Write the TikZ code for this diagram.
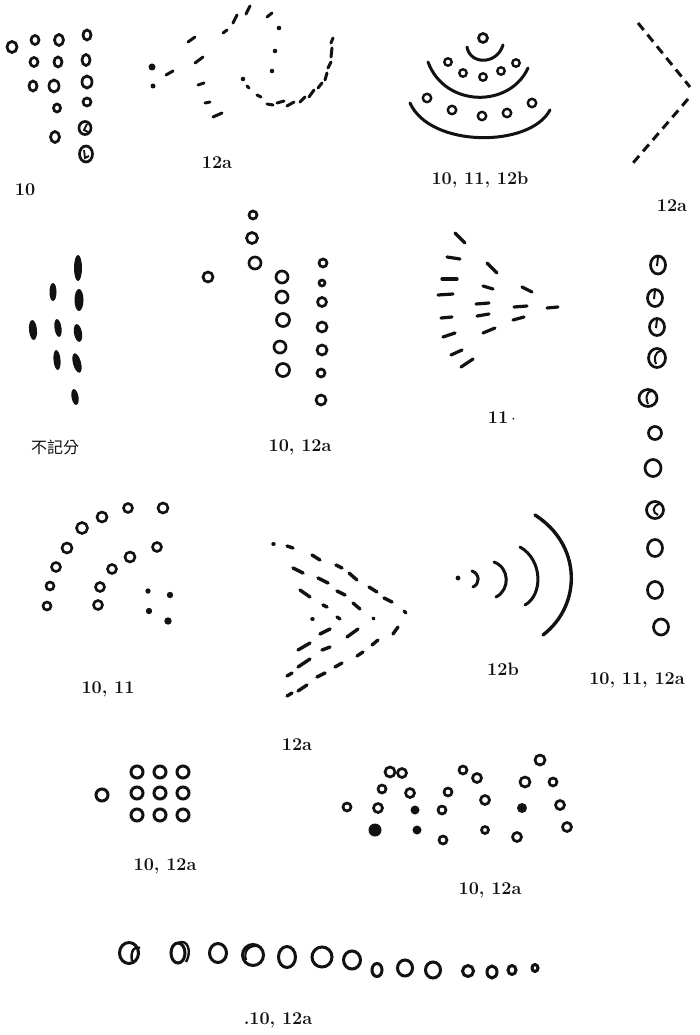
\documentclass[tikz,border=0pt]{standalone}
\usepackage{fontspec}
\newfontfamily\cjkfont{Noto Sans CJK TC}
\usepackage{tikz}
\usetikzlibrary{calc}
\definecolor{PrInk}{HTML}{121212}
\tikzset{
  ring/.style={draw=PrInk,line width=2.7pt},
  blot/.style={fill=PrInk},
  stub/.style={draw=PrInk,line width=3pt,line cap=round},
  bow/.style={draw=PrInk,line width=3pt,line cap=round},
  caption/.style={font=\bfseries\fontsize{18}{20}\selectfont,text=PrInk,inner sep=0pt},
}

\begin{document}
\begin{tikzpicture}[x=1pt,y=-1pt]
  \fill[white] (0,0) rectangle (699,1035);
  \useasboundingbox (0,0) rectangle (699,1035);

  % panel: ranks of circles, top left
  \foreach \x/\y/\a/\b in {12/47/5/5.5, 35/40/4/4.5, 59/40/4.5/5.5, 87/35/4/5,
      34/62/4/4.5, 58/62/4/5, 86/60/4/5.5, 33/86/4/5, 54/86/5/6, 87/82/5/6,
      57/108/3.5/4, 87/102/4/4, 55/137/4.5/5.5, 85/128/6/6.5, 86/154/6.5/8}
    \draw[ring] (\x,\y) ellipse [x radius=\a pt,y radius=\b pt];
  \draw[ring,line width=1.8pt] (87,124) -- (84,130) -- (88,132);
  \draw[ring,line width=1.8pt] (84,150) -- (85,158) -- (89,156);
  \node[caption] (capA) at (25,190) {10};

  % panel: dashes and dashed arc
  \fill[PrInk] (152,67) circle (3.5pt);
  \fill[PrInk] (153,86) circle (2.5pt);
  \foreach \xa/\ya/\xb/\yb in {166/75/173/71, 188/42/195/37, 195/63/203/57,
      198/85/204/83, 205/103/210/102, 213/117/222/113, 223/33/227/30,
      233/23/237/15, 246/14/250/6, 267/17/272/13, 247/86/249/88, 257/95/261/97,
      267/104/273/105, 277/103/284/101, 287/106/294/102, 300/102/305/97,
      309/97/314/90, 318/88/322/83, 325/80/327/73, 328/68/331/62,
      331/57/332/48, 331/43/333/38}
    \draw[stub] (\xa,\ya) -- (\xb,\yb);
  \foreach \x/\y in {279/28, 275/51, 272/71, 243/79}
    \fill[PrInk] (\x,\y) circle (2.3pt);
  \node[caption] (capB) at (217,163) {12a};

  % panel: bowls with circles
  \draw[ring] (483,38) circle (4.5pt);
  \draw[bow] (467,47) .. controls (470,65) and (497,65) .. (503,45);
  \draw[bow] (428,62) .. controls (445,108) and (510,108) .. (528,68);
  \draw[bow] (410,103) .. controls (430,148) and (530,148) .. (550,110);
  \foreach \x/\y in {448/62, 463/73, 483/77, 501/71, 516/63}
    \draw[ring,line width=2.4pt] (\x,\y) circle (3.7pt);
  \foreach \x/\y in {427/98, 452/110, 482/116, 507/113, 532/103}
    \draw[ring,line width=2.4pt] (\x,\y) circle (4.2pt);
  \node[caption] (capC) at (480,180) {10, 11, 12b};

  % panel: dashed angle
  \draw[bow,line cap=butt,dash pattern=on 9pt off 6pt] (638,23) -- (690,87);
  \draw[bow,line cap=butt,dash pattern=on 9pt off 6pt] (688,99) -- (633,163);
  \node[caption] (capD) at (672,206) {12a};

  % panel: long marks
  \foreach \x/\y/\a/\b/\r in {78/268/4/13/0, 53/292/3.5/9/0, 79/300/4.5/11/0,
      33/330/4/10/5, 58/328/3.5/9/8, 78/333/4/9/10, 57/360/3.5/10/5,
      77/363/4/10/15, 75/397/3.5/8/10}
    \fill[PrInk,rotate around={\r:(\x,\y)}] (\x,\y) ellipse [x radius=\a pt,y radius=\b pt];
  \node[font=\cjkfont\fontsize{16}{18}\selectfont,text=PrInk,inner sep=0pt] (capE) at (55,447) {不記分};

  % panel: columns of circles
  \foreach \x/\y/\r in {208/277/5, 253/215/4, 252/238/5.5, 255/263/6,
      282/277/6, 282/297/6, 283/320/6.5, 280/347/6, 283/370/6.5,
      323/263/4, 322/283/3, 322/302/4.5, 322/327/5, 322/350/5, 321/373/4, 321/400/5}
    \draw[ring] (\x,\y) circle (\r pt);
  \node[caption] (capF) at (300,447) {10, 12a};

  % panel: fan of strokes
  \foreach \xa/\ya/\xb/\yb in {455/233/465/243, 447/257/460/259, 442/279/457/279,
      438/295/453/294, 441/318/452/317, 443/337/455/333, 451/355/462/350,
      461/367/473/359, 487/263/497/273, 483/286/493/289, 476/304/489/303,
      477/316/489/314, 483/333/495/328, 522/287/532/292, 514/307/527/306,
      513/320/524/317, 547/308/558/307}
    \draw[stub,line width=3.2pt] (\xa,\ya) -- (\xb,\yb);
  \node[caption] (capG) at (502,418) {11\,$\cdot$};

  % panel: tall column of circles
  \foreach \x/\y/\a/\b in {658/265/7.5/9, 655/298/7.5/8.5, 657/327/7.5/8.5,
      657/358/8.5/9.5, 648/398/9/8.5, 655/433/6.5/6.5, 653/468/8/8.5,
      655/510/8.5/8.5, 655/548/7.5/8.5, 655/590/7.5/8.5, 661/627/7.5/8}
    \draw[ring] (\x,\y) ellipse [x radius=\a pt,y radius=\b pt];
  \foreach \x/\y in {658/265, 655/298, 657/327}
    \draw[ring,line width=2pt] (\x,\y-8) -- (\x-1,\y+1);
  \draw[ring,line width=2pt] (661,351) .. controls (654,352) and (654,360) .. (656,364);
  \draw[ring,line width=2pt] (652,391) .. controls (645,392) and (646,400) .. (648,404);
  \draw[ring,line width=2pt] (660,504) .. controls (652,505) and (652,513) .. (658,515);
  \node[caption] (capH) at (637,680) {10, 11, 12a};

  % panel: arcs of circles with dots
  \foreach \x/\y/\r in {47/606/4, 50/586/4, 56/567/4.5, 67/548/5, 82/528/5.5,
      102/517/5, 128/508/4.5, 163/508/5, 98/605/4.5, 100/587/4.5, 112/569/4.5,
      130/557/5, 157/547/4.5}
    \draw[ring,line width=2.6pt] (\x,\y) circle (\r pt);
  \foreach \x/\y/\r in {148/591/2.7, 170/595/3.2, 149/611/3.2, 168/621/3.7}
    \fill[PrInk] (\x,\y) circle (\r pt);
  \node[caption] (capI) at (108,689) {10, 11};

  % panel: three dashed chevrons
  \foreach \xa/\ya/\xb/\yb in {273/544/274/544, 287/546/293/548, 312/555/320/560,
      336/565/342/568, 349/573/357/580, 369/587/377/592, 384/598/392/602,
      404/611/406/613, 398/627/393/634, 378/640/372/645, 363/652/357/656,
      342/663/335/667, 325/673/317/677, 307/685/298/691, 292/693/287/696,
      293/568/303/573, 318/578/328/583, 337/591/345/595, 353/603/360/609,
      373/618/374/619, 358/629/347/637, 330/647/322/650, 310/659/298/667,
      292/673/287/676, 300/590/310/597, 323/605/327/607, 337/617/340/619,
      312/619/313/619, 330/629/320/634, 310/643/298/650}
    \draw[stub,line width=3.4pt] (\xa,\ya) -- (\xb,\yb);
  \node[caption] (capJ) at (297,745) {12a};

  % panel: widening arcs
  \fill[PrInk] (458,578) circle (2.4pt);
  \draw[bow] (472,571) .. controls (480,574) and (480,584) .. (473,587);
  \draw[bow] (494,562) .. controls (510,568) and (510,590) .. (496,597);
  \draw[bow] (520,547) .. controls (543,560) and (543,595) .. (525,605);
  \draw[bow,line width=3.4pt] (535,515) .. controls (582,545) and (582,605) .. (543,635);
  \node[caption] (capK) at (503,669) {12b};

  % panel: block of circles
  \foreach \x/\y in {137/772, 160/772, 183/772, 137/793, 160/793, 183/793,
      137/815, 160/815, 183/815, 102/795}
    \draw[ring,line width=3pt] (\x,\y) circle (6pt);
  \node[caption] (capL) at (165,866) {10, 12a};

  % panel: three humps of circles
  \draw[ring] (347,807) circle (4pt);
  \foreach \x/\y/\r in {378/808/4.5, 382/789/4, 390/772/5, 402/773/4.5,
      410/793/4.5, 448/792/4, 463/770/4, 477/778/4.5, 485/800/4.5, 442/810/4,
      443/840/4, 485/830/3.5, 540/760/5, 525/782/5, 553/782/4, 560/805/4.5,
      517/837/4.5, 567/827/4.5}
    \draw[ring] (\x,\y) circle (\r pt);
  \foreach \x/\y/\r in {375/830/6.5, 415/810/4.5, 417/830/4.5, 522/808/5}
    \fill[PrInk] (\x,\y) circle (\r pt);
  \node[caption] (capM) at (490,890) {10, 12a};

  % panel: shrinking row of circles
  \draw[ring,line width=3pt] (129,953) ellipse [x radius=9.5pt,y radius=10.5pt];
  \draw[ring,line width=2.4pt] (132,961) .. controls (130,951) and (135,945) .. (140,948);
  \foreach \x/\y/\a/\b in {178/953/7/10, 218/953/8.5/9.5, 253/955/10.5/10.5,
      287/957/8.5/10.5, 322/957/10/10, 352/960/8.5/9, 377/970/5/6.5,
      405/968/7.5/8, 433/970/7.5/8, 468/971/5.5/5.5, 492/972/5/6,
      512/970/4/4.5, 535/968/3/3.5}
    \draw[ring,line width=3pt] (\x,\y) ellipse [x radius=\a pt,y radius=\b pt];
  \draw[ring,line width=2.4pt] (178,943) .. controls (188,938) and (192,952) .. (186,962);
  \draw[ring,line width=2.2pt] (246,960) .. controls (243,950) and (250,945) .. (258,946);
  \node[caption] (capN) at (278,1020) {.10, 12a};
\end{tikzpicture}
\end{document}
